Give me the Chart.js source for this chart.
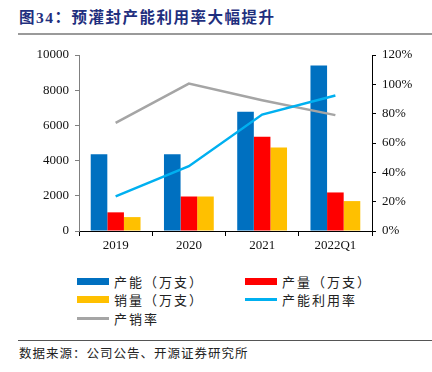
<!DOCTYPE html>
<html>
<head>
<meta charset="utf-8">
<script src="https://cdn.jsdelivr.net/npm/chart.js@4"></script>
<style>
  body { margin: 0; width: 432px; height: 372px; background: #fff; position: relative; overflow: hidden;
         font-family: "Noto Sans CJK SC", sans-serif; }
  #title { position: absolute; left: 19px; top: 5px; font-size: 15.5px; font-weight: bold; color: #1f2f7e; letter-spacing: 1.5px;
           font-family: "Liberation Serif", "Noto Sans CJK SC", serif; }
  #rule1 { position: absolute; left: 18px; right: 0; top: 33px; height: 0; border-top: 2px solid #9a9a9a; }
  #box { position: absolute; left: 0; top: 40px; width: 432px; height: 220px; }
  #legend { position: absolute; left: 0; top: 270px; width: 432px; font-size: 13px; color: #222; }
  .item { position: absolute; display: flex; align-items: center; letter-spacing: 2px; }
  .sw { width: 32px; margin-right: 5px; }
  #rule2 { position: absolute; left: 18px; right: 0; top: 340px; border-top: 1px solid #555; }
  #src { position: absolute; left: 19px; top: 343px; font-size: 12.5px; color: #222; letter-spacing: 1px; }
</style>
</head>
<body>
<div id="title">图34：预灌封产能利用率大幅提升</div>
<div id="rule1"></div>
<div id="box"><canvas id="c"></canvas></div>
<div id="legend"></div>
<div id="rule2"></div>
<div id="src">数据来源：公司公告、开源证券研究所</div>
<script>
// 数据
const categorias = ['2019', '2020', '2021', '2022Q1'];
const capacidad  = [4360, 4360, 6780, 9400];     // 产能（万支）
const produccion = [1060, 1960, 5360, 2190];     // 产量（万支）
const ventas     = [790, 1960, 4740, 1700];      // 销量（万支）
const utilizacion = [23.6, 44.2, 79.4, 92.4];    // 产能利用率 %
const tasaVentas  = [73.7, 100.5, 89.2, 79.0];   // 产销率 %

const etiquetas = ['产能（万支）', '产量（万支）', '销量（万支）', '产能利用率', '产销率'];
const colores = ['#0070c0', '#ff0000', '#ffc000', '#00b0f0', '#a5a5a5'];

const tickFont = { family: '"Liberation Serif", serif', size: 13 };

const ctx = document.getElementById('c').getContext('2d');
new Chart(ctx, {
  data: {
    labels: categorias,
    datasets: [
      { type: 'line', label: etiquetas[3], data: utilizacion, yAxisID: 'y2', borderColor: colores[3], borderWidth: 2.5, pointRadius: 0, tension: 0, order: 0 },
      { type: 'line', label: etiquetas[4], data: tasaVentas, yAxisID: 'y2', borderColor: colores[4], borderWidth: 2.5, pointRadius: 0, tension: 0, order: 0 },
      { type: 'bar', label: etiquetas[0], data: capacidad, yAxisID: 'y', backgroundColor: colores[0], order: 1 },
      { type: 'bar', label: etiquetas[1], data: produccion, yAxisID: 'y', backgroundColor: colores[1], order: 1 },
      { type: 'bar', label: etiquetas[2], data: ventas, yAxisID: 'y', backgroundColor: colores[2], order: 1 }
    ]
  },
  options: {
    responsive: true,
    maintainAspectRatio: false,
    animation: false,
    layout: { padding: { top: 15, left: 0, right: 0, bottom: 0 } },
    datasets: { bar: { barPercentage: 1, categoryPercentage: 0.68 } },
    plugins: { legend: { display: false }, tooltip: { enabled: false } },
    scales: {
      x: {
        offset: true,
        grid: { offset: true, drawOnChartArea: false, tickLength: 5, color: '#000' },
        border: { color: '#000', width: 1 },
        ticks: { font: tickFont, color: '#111', padding: 2 },
        afterFit: s => { s.height = 29; }
      },
      y: {
        position: 'left', min: 0, max: 10000,
        ticks: { stepSize: 2000, font: tickFont, color: '#111', padding: 6, callback: v => String(v) },
        grid: { drawOnChartArea: false, tickLength: 4, color: '#808080' },
        border: { color: '#808080', width: 1 },
        afterFit: s => { s.width = 79; }
      },
      y2: {
        position: 'right', min: 0, max: 120,
        ticks: { stepSize: 20, font: tickFont, color: '#111', padding: 6, callback: v => v + '%' },
        grid: { drawOnChartArea: false, tickLength: 4, color: '#000' },
        border: { color: '#000', width: 1 },
        afterFit: s => { s.width = 60; }
      }
    }
  }
});

// leyenda en HTML
const leg = document.getElementById('legend');
const pos = [[77, 2], [245, 2], [77, 20], [245, 20], [77, 39]];
etiquetas.forEach((t, i) => {
  const d = document.createElement('div');
  d.className = 'item';
  d.style.left = pos[i][0] + 'px';
  d.style.top = pos[i][1] + 'px';
  const sw = document.createElement('span');
  sw.className = 'sw';
  sw.style.background = colores[i];
  sw.style.height = i < 3 ? '7px' : '3px';
  d.appendChild(sw);
  d.appendChild(document.createTextNode(t));
  leg.appendChild(d);
});
</script>
</body>
</html>
